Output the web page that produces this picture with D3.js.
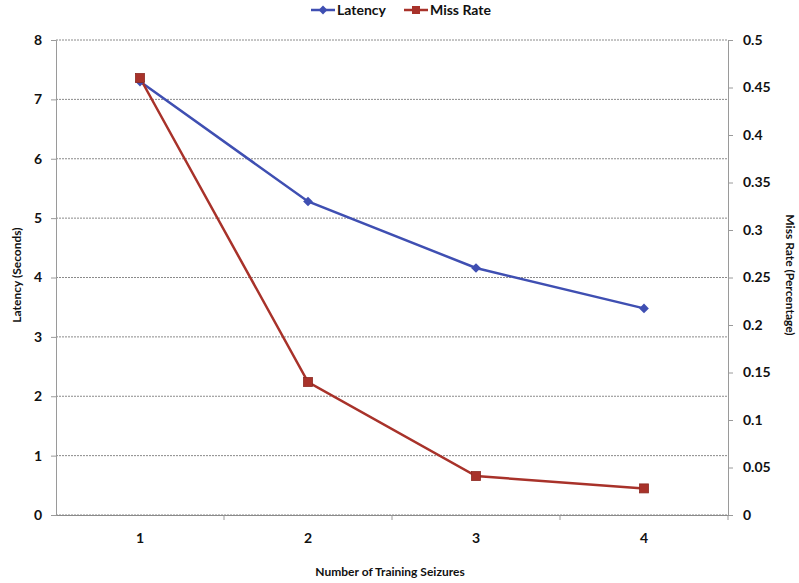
<!DOCTYPE html>
<html>
<head>
<meta charset="utf-8">
<script src="https://cdn.jsdelivr.net/npm/d3@7"></script>
<style>
  body { margin: 0; background: #fff; }
  svg { font-family: Lato, "Open Sans", "DejaVu Sans", sans-serif; font-weight: bold; }
</style>
</head>
<body>
<svg id="chart" width="799" height="583"></svg>
<script>
// Number of training seizures on the x axis
const categories = ["1", "2", "3", "4"];
// Detection latency in seconds (left axis)
const latency = [7.3, 5.28, 4.16, 3.48];
// Miss rate (right axis)
const missRate = [0.46, 0.14, 0.041, 0.028];
// Axis tick values
const leftTicks = [0, 1, 2, 3, 4, 5, 6, 7, 8];
const rightTicks = [0, 0.05, 0.1, 0.15, 0.2, 0.25, 0.3, 0.35, 0.4, 0.45, 0.5];
const seriesNames = ["Latency", "Miss Rate"];

const colors = { latency: "#3f4fb2", miss: "#a8322a" };
const svg = d3.select("#chart");
const m = { left: 56, right: 728, top: 40, bottom: 515 };

const x = d3.scaleBand().domain(categories).range([m.left, m.right]);
const yL = d3.scaleLinear().domain([0, 8]).range([m.bottom, m.top]);
const yR = d3.scaleLinear().domain([0, 0.5]).range([m.bottom, m.top]);
const cx = c => x(c) + x.bandwidth() / 2;

// Horizontal gridlines at the latency ticks
svg.append("g").selectAll("line").data(leftTicks).join("line")
  .attr("x1", m.left).attr("x2", m.right)
  .attr("y1", d => yL(d)).attr("y2", d => yL(d))
  .attr("stroke", "#8a8a8a").attr("stroke-width", 1)
  .attr("stroke-dasharray", "2,1");

// Left axis
const gL = svg.append("g").attr("transform", `translate(${m.left},0)`)
  .call(d3.axisLeft(yL).tickValues(leftTicks).tickFormat(d3.format("d")).tickSize(5).tickPadding(9));
// Right axis
const gR = svg.append("g").attr("transform", `translate(${m.right},0)`)
  .call(d3.axisRight(yR).tickValues(rightTicks).tickFormat(d => d === 0 ? "0" : String(+d.toFixed(2))).tickSize(5).tickPadding(10));
// Bottom axis: ticks sit on the category boundaries
const gB = svg.append("g").attr("transform", `translate(0,${m.bottom})`)
  .call(d3.axisBottom(x).tickSize(0).tickPadding(18));
gB.selectAll(".tick").append("line")
  .attr("x1", x.bandwidth() / 2).attr("x2", x.bandwidth() / 2)
  .attr("y1", 0).attr("y2", 5).attr("stroke", "#8a8a8a");
gB.append("line").attr("x1", m.left - x(categories[0]) - x.bandwidth() / 2).attr("x2", m.left - x(categories[0]) - x.bandwidth() / 2);

[gL, gR, gB].forEach(g => {
  g.select(".domain").attr("stroke", "#9a9a9a");
  g.selectAll(".tick line").attr("stroke", "#9a9a9a");
  g.selectAll(".tick text").attr("fill", "#111").style("font-size", "14px").style("font-weight", "bold")
    .style("font-family", "Lato, 'Open Sans', sans-serif");
});
gB.select(".domain").attr("stroke", "#8a8a8a");

// Lines
const lineL = d3.line().x((d, i) => cx(categories[i])).y(d => yL(d));
const lineR = d3.line().x((d, i) => cx(categories[i])).y(d => yR(d));
svg.append("path").datum(latency).attr("d", lineL)
  .attr("fill", "none").attr("stroke", colors.latency).attr("stroke-width", 2.5);
svg.append("path").datum(missRate).attr("d", lineR)
  .attr("fill", "none").attr("stroke", colors.miss).attr("stroke-width", 2.5);

// Markers
svg.append("g").selectAll("path").data(latency).join("path")
  .attr("transform", (d, i) => `translate(${cx(categories[i])},${yL(d)})`)
  .attr("d", d3.symbol(d3.symbolDiamond2, 60)())
  .attr("fill", colors.latency);
svg.append("g").selectAll("rect").data(missRate).join("rect")
  .attr("x", (d, i) => cx(categories[i]) - 4.5).attr("y", d => yR(d) - 4.5)
  .attr("width", 9).attr("height", 9)
  .attr("fill", colors.miss).attr("stroke", "#8c2a22").attr("stroke-width", 0.8);

// Axis titles
svg.append("text").attr("x", 390).attr("y", 576).attr("text-anchor", "middle")
  .style("font-size", "12px").attr("fill", "#111").text("Number of Training Seizures");
svg.append("text").attr("transform", "translate(21,275) rotate(-90)").attr("text-anchor", "middle")
  .style("font-size", "12px").attr("fill", "#111").text("Latency (Seconds)");
svg.append("text").attr("transform", "translate(786,275) rotate(90)").attr("text-anchor", "middle")
  .style("font-size", "12px").attr("fill", "#111").text("Miss Rate (Percentage)");

// Legend
const legend = svg.append("g");
const legendItems = [
  { name: seriesNames[0], color: colors.latency, x: 311, shape: "diamond" },
  { name: seriesNames[1], color: colors.miss, x: 404, shape: "square" }
];
legendItems.forEach(it => {
  const g = legend.append("g").attr("transform", `translate(${it.x},10)`);
  g.append("line").attr("x1", 0).attr("x2", 24).attr("stroke", it.color).attr("stroke-width", 2.5);
  if (it.shape === "diamond") {
    g.append("path").attr("transform", "translate(12,0)").attr("d", d3.symbol(d3.symbolDiamond2, 50)()).attr("fill", it.color);
  } else {
    g.append("rect").attr("x", 8).attr("y", -4).attr("width", 8).attr("height", 8).attr("fill", it.color);
  }
  g.append("text").attr("x", 26).attr("y", 5).style("font-size", "14px").attr("fill", "#111").text(it.name);
});
</script>
</body>
</html>
